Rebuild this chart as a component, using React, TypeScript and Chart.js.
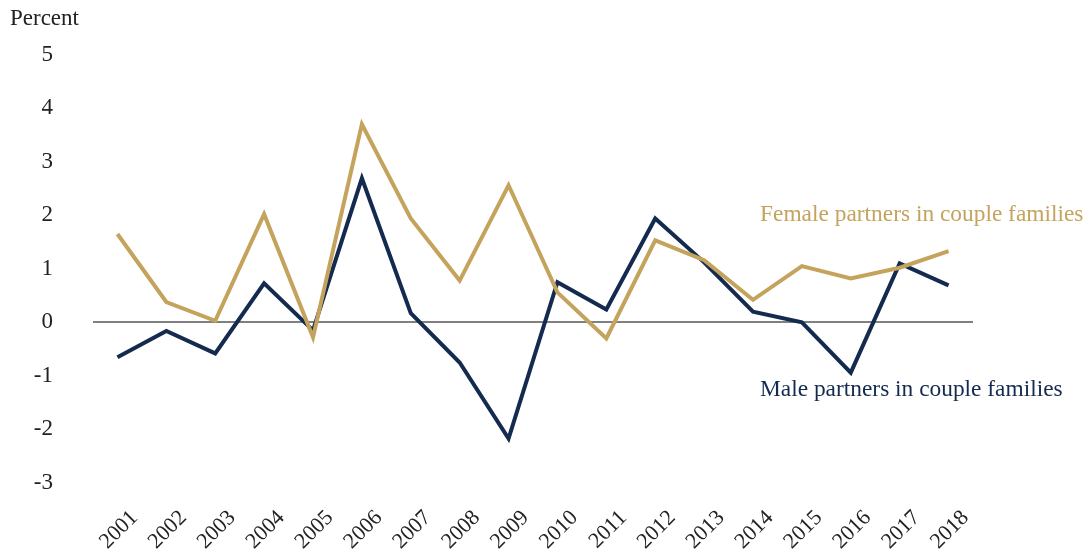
import React, { useEffect, useRef } from 'react';
import { Chart, registerables } from 'chart.js';

Chart.register(...registerables);

const years = ['2001', '2002', '2003', '2004', '2005', '2006', '2007', '2008', '2009', '2010', '2011', '2012', '2013', '2014', '2015', '2016', '2017', '2018'];
const female = [1.65, 0.38, 0.03, 2.02, -0.28, 3.7, 1.94, 0.78, 2.56, 0.56, -0.3, 1.53, 1.16, 0.42, 1.05, 0.82, 1.02, 1.33];
const male = [-0.65, -0.16, -0.58, 0.73, -0.15, 2.69, 0.17, -0.75, -2.17, 0.75, 0.24, 1.94, 1.12, 0.2, 0.0, -0.94, 1.1, 0.69];
const yTicks = [5, 4, 3, 2, 1, 0, -1, -2, -3];

const femaleLabel = 'Female partners in couple families';
const maleLabel = 'Male partners in couple families';

const GOLD = '#C4A45D';
const NAVY = '#142B4F';
const TEXT = '#222222';
const FONT = "'Liberation Serif', 'Times New Roman', serif";

const annotations = {
  id: 'annotations',
  afterDraw(chart: any) {
    const { ctx, scales } = chart;
    const xs = scales.x;
    const ys = scales.y;
    ctx.save();
    ctx.font = `23.4px ${FONT}`;
    ctx.textAlign = 'left';
    ctx.textBaseline = 'middle';
    const x = xs.getPixelForValue(13) + 7;
    ctx.fillStyle = GOLD;
    ctx.fillText(femaleLabel, x, ys.getPixelForValue(2.0));
    ctx.fillStyle = NAVY;
    ctx.fillText(maleLabel, x, ys.getPixelForValue(-1.27));
    ctx.restore();
  },
};

export default function App() {
  const ref = useRef<HTMLCanvasElement | null>(null);
  useEffect(() => {
    if (!ref.current) return;
    const chart = new Chart(ref.current, {
      type: 'line',
      data: {
        labels: years,
        datasets: [
          { label: femaleLabel, data: female, borderColor: GOLD, borderWidth: 4, pointRadius: 0, tension: 0, fill: false },
          { label: maleLabel, data: male, borderColor: NAVY, borderWidth: 4, pointRadius: 0, tension: 0, fill: false },
        ],
      },
      options: {
        animation: false,
        responsive: false,
        maintainAspectRatio: false,
        layout: { padding: { left: 10, right: 117, top: 0, bottom: 0 } },
        plugins: {
          legend: { display: false },
          tooltip: { enabled: false },
          title: {
            display: true,
            text: 'Percent',
            align: 'start',
            color: TEXT,
            font: { family: FONT, size: 23, weight: 'normal' },
            padding: { top: 5, bottom: 22 },
          },
        },
        scales: {
          x: {
            offset: true,
            grid: { display: false },
            border: { display: false },
            ticks: {
              maxRotation: 45,
              minRotation: 45,
              labelOffset: 17,
              padding: 14,
              color: TEXT,
              font: { family: FONT, size: 22 },
            },
            afterFit: (s: any) => { s.height = 76; },
          },
          y: {
            min: -3,
            max: 5,
            afterBuildTicks: (s: any) => { s.ticks = yTicks.map((v) => ({ value: v })); },
            grid: {
              color: (c: any) => (c.tick && c.tick.value === 0 ? '#808080' : 'rgba(0,0,0,0)'),
              lineWidth: 2,
              drawTicks: false,
            },
            border: { display: false },
            ticks: { padding: 40, color: TEXT, font: { family: FONT, size: 23 } },
            afterFit: (s: any) => { s.width = 83; },
          },
        },
      },
      plugins: [annotations],
    });
    return () => chart.destroy();
  }, []);
  return (
    <div style={{ position: 'fixed', left: 0, top: 0, width: 1090, height: 559, background: '#fff' }}>
      <canvas ref={ref} width={1090} height={559} style={{ display: 'block' }} />
    </div>
  );
}
